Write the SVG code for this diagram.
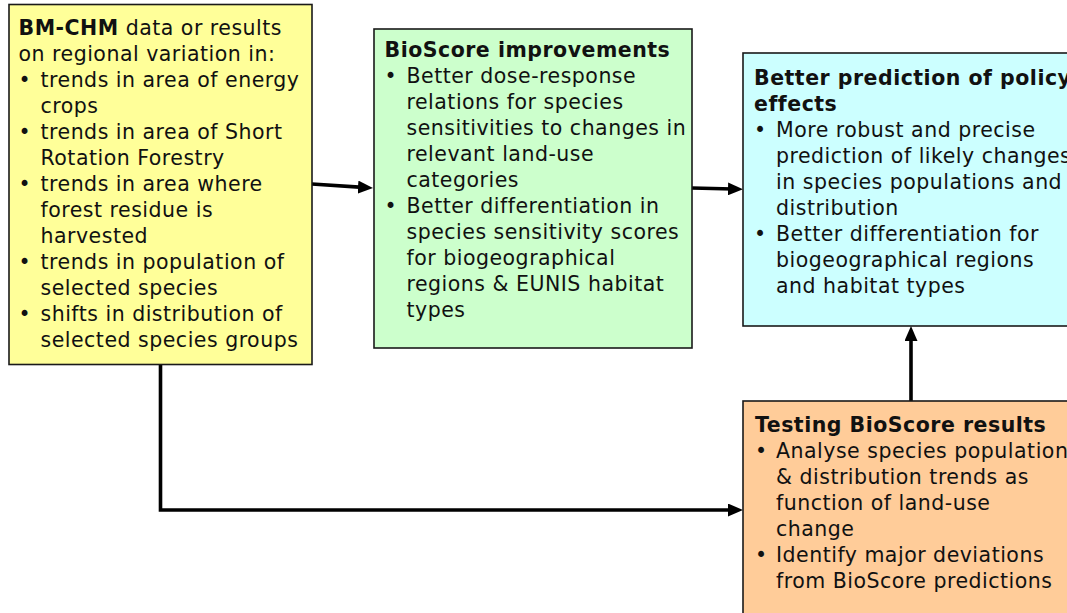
<svg xmlns="http://www.w3.org/2000/svg" width="1067" height="613" viewBox="0 0 1067 613">
<defs>
<style>
.box{stroke:#1a1a1a;stroke-width:1.6}
.t{font-family:"DejaVu Sans","Verdana",sans-serif;font-size:20.5px;letter-spacing:0.5px;fill:#111}
.b{font-weight:bold}
.conn{stroke:#000;stroke-width:3.6;fill:none}
</style>
<marker id="ah" viewBox="0 0 15 13" refX="5" refY="6.5" markerWidth="15" markerHeight="13" orient="auto" markerUnits="userSpaceOnUse">
<path d="M0,0 L15,6.5 L0,13 z" fill="#000"/>
</marker>
</defs>
<rect width="1067" height="613" fill="#fff"/>
<g id="connectors">
<line class="conn" x1="312" y1="184" x2="363" y2="187.4" marker-end="url(#ah)"/>
<line class="conn" x1="692" y1="188" x2="733" y2="189" marker-end="url(#ah)"/>
<line class="conn" x1="911" y1="401" x2="911" y2="336" marker-end="url(#ah)"/>
<polyline class="conn" points="160.5,365 160.5,510 733,510" marker-end="url(#ah)"/>
</g>
<g id="node-bmchm">
<rect class="box" x="9" y="4.5" width="303" height="360" fill="#FFFF99"/>
<text class="t" x="18.5" y="35"><tspan class="b">BM-CHM</tspan> data or results</text>
<text class="t" x="18.5" y="61">on regional variation in:</text>
<text class="t" x="18.5" y="87">•</text><text class="t" x="40.5" y="87">trends in area of energy</text>
<text class="t" x="40.5" y="113">crops</text>
<text class="t" x="18.5" y="139">•</text><text class="t" x="40.5" y="139">trends in area of Short</text>
<text class="t" x="40.5" y="165">Rotation Forestry</text>
<text class="t" x="18.5" y="191">•</text><text class="t" x="40.5" y="191">trends in area where</text>
<text class="t" x="40.5" y="217">forest residue is</text>
<text class="t" x="40.5" y="243">harvested</text>
<text class="t" x="18.5" y="269">•</text><text class="t" x="40.5" y="269">trends in population of</text>
<text class="t" x="40.5" y="295">selected species</text>
<text class="t" x="18.5" y="321">•</text><text class="t" x="40.5" y="321">shifts in distribution of</text>
<text class="t" x="40.5" y="347">selected species groups</text>
</g>
<g id="node-bioscore">
<rect class="box" x="374" y="29" width="318" height="319" fill="#CCFFCC"/>
<text class="t b" x="384.5" y="57">BioScore improvements</text>
<text class="t" x="384.5" y="83">•</text><text class="t" x="406.5" y="83">Better dose-response</text>
<text class="t" x="406.5" y="109">relations for species</text>
<text class="t" x="406.5" y="135">sensitivities to changes in</text>
<text class="t" x="406.5" y="161">relevant land-use</text>
<text class="t" x="406.5" y="187">categories</text>
<text class="t" x="384.5" y="213">•</text><text class="t" x="406.5" y="213">Better differentiation in</text>
<text class="t" x="406.5" y="239">species sensitivity scores</text>
<text class="t" x="406.5" y="265">for biogeographical</text>
<text class="t" x="406.5" y="291">regions &amp; EUNIS habitat</text>
<text class="t" x="406.5" y="317">types</text>
</g>
<g id="node-prediction">
<rect class="box" x="743" y="53" width="340" height="273" fill="#CCFFFF"/>
<text class="t b" x="754" y="85">Better prediction of policy</text>
<text class="t b" x="754" y="111">effects</text>
<text class="t" x="754" y="137">•</text><text class="t" x="776" y="137">More robust and precise</text>
<text class="t" x="776" y="163">prediction of likely changes</text>
<text class="t" x="776" y="189">in species populations and</text>
<text class="t" x="776" y="215">distribution</text>
<text class="t" x="754" y="241">•</text><text class="t" x="776" y="241">Better differentiation for</text>
<text class="t" x="776" y="267">biogeographical regions</text>
<text class="t" x="776" y="293">and habitat types</text>
</g>
<g id="node-testing">
<rect class="box" x="743" y="401" width="340" height="230" fill="#FFCC99"/>
<text class="t b" x="755" y="432">Testing BioScore results</text>
<text class="t" x="755" y="458">•</text><text class="t" x="776" y="458">Analyse species population</text>
<text class="t" x="776" y="484">&amp; distribution trends as</text>
<text class="t" x="776" y="510">function of land-use</text>
<text class="t" x="776" y="536">change</text>
<text class="t" x="755" y="562">•</text><text class="t" x="776" y="562">Identify major deviations</text>
<text class="t" x="776" y="588">from BioScore predictions</text>
</g>
</svg>
